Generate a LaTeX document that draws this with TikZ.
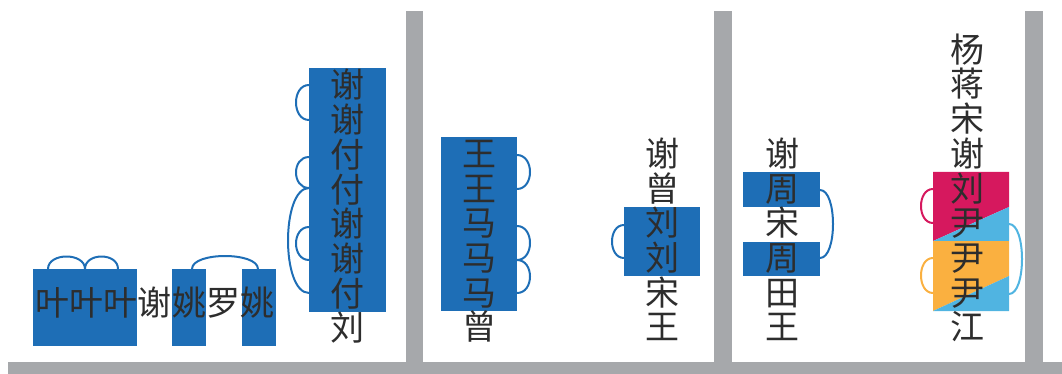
\documentclass[tikz,border=0pt]{standalone}
\usepackage{fontspec}
\newfontfamily\cjk{Noto Sans CJK SC}
\definecolor{boxblue}{RGB}{30,110,182}
\definecolor{bargray}{RGB}{166,168,171}
\definecolor{mag}{RGB}{214,24,94}
\definecolor{lblue}{RGB}{80,180,225}
\definecolor{orng}{RGB}{250,176,64}
\definecolor{txt}{RGB}{45,45,45}
\newcommand\vhandle[5][boxblue]{\draw[hdl,#1] (#2,#3) .. controls ({#2+1.333*(#5)},#3) and ({#2+1.333*(#5)},#4) .. (#2,#4);}
\newcommand\hhandle[5][boxblue]{\draw[hdl,#1] (#2,#4) .. controls (#2,{#4+1.333*(#5)}) and (#3,{#4+1.333*(#5)}) .. (#3,#4);}
\begin{document}
\begin{tikzpicture}[x=1pt,y=-1pt,
  ch/.style={inner sep=0pt, text height=29.9pt, text depth=4.1pt, font=\cjk\fontsize{34}{34}\selectfont, text=txt},
  hdl/.style={line width=2pt},
  bluebox/.style={fill=boxblue}]
\useasboundingbox (0,0) rectangle (1062,374);
% bars
\fill[bargray] (8,362) rectangle (1062,374);
\fill[bargray] (405.5,11) rectangle (423,362);
\fill[bargray] (714,11) rectangle (732,362);
\fill[bargray] (1025,11) rectangle (1043,362);
% boxes
\fill[bluebox] (33,269) rectangle (137,346);
\fill[bluebox] (172,269) rectangle (206,346);
\fill[bluebox] (242,269) rectangle (276,346);
\fill[bluebox] (309,68) rectangle (386,312);
\fill[bluebox] (441,137) rectangle (517,311);
\fill[bluebox] (624,207) rectangle (700,276);
\fill[bluebox] (743,172) rectangle (820,207);
\fill[bluebox] (743,242) rectangle (820,276);
\fill[mag] (933,172) -- (1009,172) -- (1009,207) -- (933,241) -- cycle;
\fill[lblue] (933,241) -- (1009,207) -- (1009,241) -- cycle;
\fill[orng] (933,241) -- (1009,241) -- (1009,276) -- (933,311) -- cycle;
\fill[lblue] (933,311) -- (1009,276) -- (1009,311) -- cycle;
% handles
\hhandle{48}{85}{269}{-12.5}
\hhandle{85}{118}{269}{-12.5}
\hhandle{192}{258}{269}{-13}
\vhandle{309}{85}{120}{-13}
\vhandle{309}{157}{188}{-13}
\vhandle{309}{227}{260}{-13}
\vhandle{309}{188}{293}{-21}
\vhandle{517}{155}{189}{13}
\vhandle{517}{226}{260}{13}
\vhandle{517}{260}{293}{13}
\vhandle{624}{225}{258}{-12}
\vhandle{820}{190}{258}{13}
\vhandle[mag]{933}{189}{223}{-12}
\vhandle[orng]{933}{258}{293}{-12}
\vhandle[lblue]{1009}{224}{294}{13}
% text
\foreach \c [count=\i from 0] in {叶,叶,叶,谢,姚,罗,姚}
  \node[ch] (a\i) at ({52+34.3*\i},303) {\c};
\foreach \c [count=\i from 0] in {谢,谢,付,付,谢,谢,付,刘}
  \node[ch] (b\i) at (347,{85+34.7*\i}) {\c};
\foreach \c [count=\i from 0] in {王,王,马,马,马,曾}
  \node[ch] (c\i) at (479,{153.5+34.7*\i}) {\c};
\foreach \c [count=\i from 0] in {谢,曾,刘,刘,宋,王}
  \node[ch] (d\i) at (662,{153.5+34.7*\i}) {\c};
\foreach \c [count=\i from 0] in {谢,周,宋,周,田,王}
  \node[ch] (e\i) at (782,{153.5+34.7*\i}) {\c};
\foreach \c [count=\i from 0] in {杨,蒋,宋,谢,刘,尹,尹,尹,江}
  \node[ch] (f\i) at (967,{49.4+34.7*\i}) {\c};
\end{tikzpicture}
\end{document}
